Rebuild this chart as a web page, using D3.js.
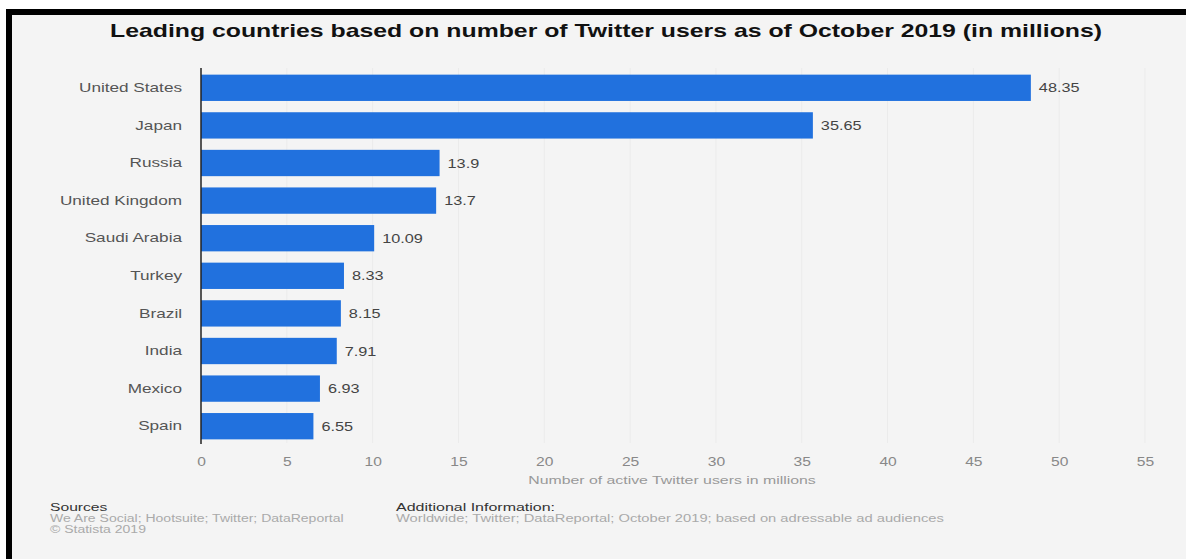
<!DOCTYPE html>
<html><head><meta charset="utf-8">
<script src="https://cdn.jsdelivr.net/npm/d3@7"></script>
<style>
html,body{margin:0;padding:0;background:#fff;}
svg{display:block;font-family:"Liberation Sans",Arial,Helvetica,sans-serif;}
</style></head>
<body><svg id="chart" width="1186" height="559"></svg>
<script>
const categories = ["United States","Japan","Russia","United Kingdom","Saudi Arabia","Turkey","Brazil","India","Mexico","Spain"];
const values = [48.35,35.65,13.9,13.7,10.09,8.33,8.15,7.91,6.93,6.55];
const valueLabels = ["48.35","35.65","13.9","13.7","10.09","8.33","8.15","7.91","6.93","6.55"];
const xTicks = [0,5,10,15,20,25,30,35,40,45,50,55];
const title = "Leading countries based on number of Twitter users as of October 2019 (in millions)";
const xAxisTitle = "Number of active Twitter users in millions";
const sourcesHead = "Sources";
const sourcesLines = ["We Are Social; Hootsuite; Twitter; DataReportal","© Statista 2019"];
const addHead = "Additional Information:";
const addLines = ["Worldwide; Twitter; DataReportal; October 2019; based on adressable ad audiences"];

const svg = d3.select("#chart");
const W = 1186, H = 559;
function stretch(sel, f){
  sel.each(function(){
    const w = this.getComputedTextLength();
    d3.select(this).attr("textLength", w*f).attr("lengthAdjust","spacingAndGlyphs");
  });
}
// frame
svg.append("rect").attr("x",0).attr("y",0).attr("width",W).attr("height",H).attr("fill","#ffffff");
svg.append("rect").attr("x",12).attr("y",15).attr("width",W-12).attr("height",H-15).attr("fill","#f4f4f4");
svg.append("rect").attr("x",6).attr("y",9).attr("width",W-6).attr("height",6).attr("fill","#000");
svg.append("rect").attr("x",6).attr("y",9).attr("width",6).attr("height",H-9).attr("fill","#000");

const x = d3.scaleLinear().domain([0,55]).range([201,1145]);
const y = d3.scaleBand().domain(categories).range([69,445]).paddingInner(0.3).paddingOuter(0.15);

// gridlines
svg.append("g").selectAll("line").data(xTicks.slice(1)).join("line")
  .attr("x1",d=>x(d)).attr("x2",d=>x(d)).attr("y1",68).attr("y2",443)
  .attr("stroke","#ebebeb").attr("stroke-width",1);

// title
svg.append("text").attr("x",606).attr("y",37).attr("text-anchor","middle")
  .attr("font-size",18.5).attr("font-weight","bold").attr("fill","#111")
  .attr("textLength",992).attr("lengthAdjust","spacingAndGlyphs").text(title);

// bars
const data = categories.map((c,i)=>({c,v:values[i],l:valueLabels[i]}));
svg.append("g").selectAll("rect").data(data).join("rect")
  .attr("x",x(0)).attr("y",d=>y(d.c)).attr("width",d=>x(d.v)-x(0)).attr("height",y.bandwidth())
  .attr("fill","#2171de");

// value labels
const vl = svg.append("g").selectAll("text").data(data).join("text")
  .attr("x",d=>x(d.v)+8).attr("y",d=>y(d.c)+y.bandwidth()/2).attr("dy","0.35em")
  .attr("font-size",13).attr("fill","#444").text(d=>d.l);
stretch(vl,1.25);

// y axis
const yAxis = d3.axisLeft(y).tickSize(0).tickPadding(19);
const gy = svg.append("g").attr("transform",`translate(${x(0)},0)`).call(yAxis);
gy.select(".domain").remove();
gy.selectAll("text").attr("font-size",13).attr("fill","#555").attr("font-family","'Liberation Sans',Arial,sans-serif");
stretch(gy.selectAll("text"),1.32);
svg.append("line").attr("x1",x(0)).attr("x2",x(0)).attr("y1",68).attr("y2",444)
  .attr("stroke","#222").attr("stroke-width",1.5);

// x axis
const xAxis = d3.axisBottom(x).tickValues(xTicks).tickSize(0).tickPadding(8);
const gx = svg.append("g").attr("transform","translate(0,449)").call(xAxis);
gx.select(".domain").remove();
gx.selectAll("text").attr("font-size",12).attr("fill","#888").attr("font-family","'Liberation Sans',Arial,sans-serif");
stretch(gx.selectAll("text"),1.3);

const at = svg.append("text").attr("x",672).attr("y",484).attr("text-anchor","middle")
  .attr("font-size",11).attr("fill","#999").text(xAxisTitle);
stretch(at,1.44);

// footer
stretch(svg.append("text").attr("x",50).attr("y",511).attr("font-size",11.5).attr("fill","#333").text(sourcesHead),1.36);
stretch(svg.append("g").selectAll("text").data(sourcesLines).join("text")
  .attr("x",50).attr("y",(d,i)=>522+i*11).attr("font-size",10).attr("fill","#aaa").text(d=>d),1.4);
stretch(svg.append("text").attr("x",396).attr("y",511).attr("font-size",11.5).attr("fill","#333").text(addHead),1.39);
stretch(svg.append("g").selectAll("text").data(addLines).join("text")
  .attr("x",396).attr("y",(d,i)=>522+i*11).attr("font-size",10).attr("fill","#aaa").text(d=>d),1.47);
</script></body></html>
